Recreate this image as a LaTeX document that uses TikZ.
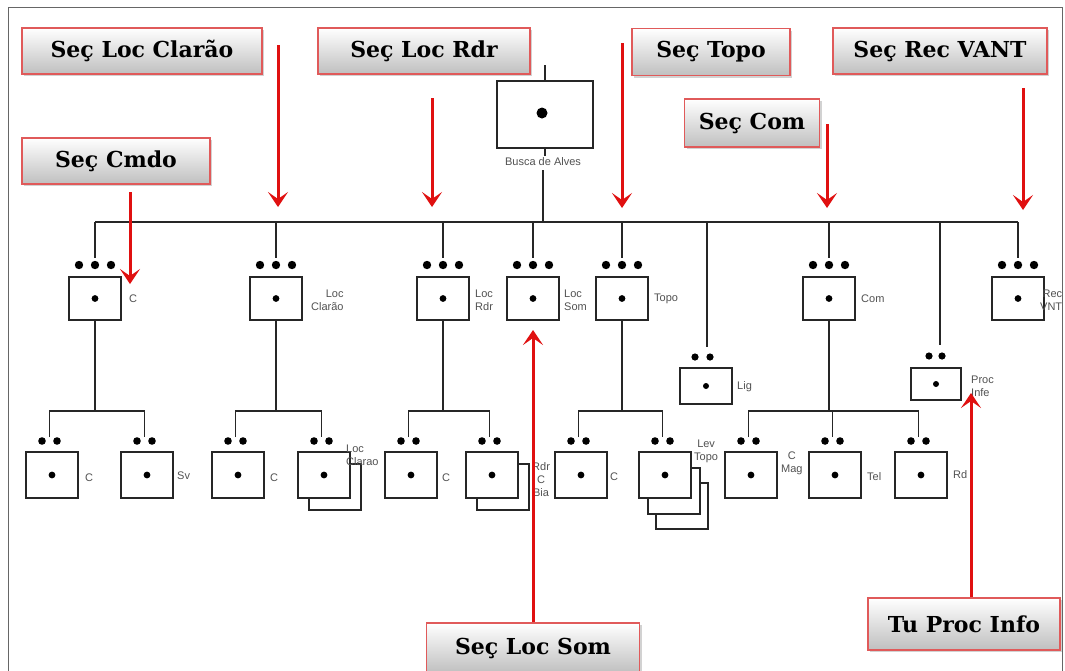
\documentclass[tikz,border=0pt]{standalone}
\usepackage{fontspec}
\setmainfont{Liberation Serif}
\newfontfamily\callfont{DejaVu Serif}
\newfontfamily\labfont{Liberation Sans}
\usetikzlibrary{arrows.meta,shadows,calc}
\definecolor{callred}{HTML}{E05A5A}
\definecolor{arrred}{HTML}{E01010}
\begin{document}
\begin{tikzpicture}[x=1pt,y=-1pt,
  callout/.style={draw=callred, line width=1.3pt, top color=white, bottom color=black!25,
    drop shadow={shadow xshift=2pt, shadow yshift=-2pt, opacity=0.35},
    font=\callfont\bfseries\fontsize{22}{24}\selectfont, inner sep=0pt},
  ubox/.style={draw=black!85, line width=1.3pt, fill=white, minimum width=52pt, inner sep=0pt},
  lab/.style={font=\labfont\fontsize{11}{13}\selectfont, text=black!68, align=left, inner sep=0pt, anchor=west},
  conn/.style={draw=black!85, line width=1.2pt},
  redarrow/.style={draw=arrred, line width=3pt, -{Stealth[length=15pt,width=20pt,inset=7pt]}},
  dotc/.style={fill=black}
]
\clip (0,0) rectangle (1065,670);
\fill[white] (0,0) rectangle (1065,670);
\draw[black!60, line width=1pt] (8,7) rectangle (1062,700);

% bus
\coordinate (bus) at (0,222);
\coordinate (bar) at (0,411);

% top node
\node[ubox, minimum width=96pt, minimum height=67pt] (busca) at (545,114.5) {};
\fill[dotc] (542,113) circle (5.5pt);
\draw[conn] (busca.north) -- ++(0,-15);
\draw[conn] (busca.south) -- ++(0,7);
\node[lab, anchor=center] (buscalab) at (543,162) {Busca de Alves};
\draw[conn] (buscalab.south |- 0,170) -- (buscalab.south |- bus);

% level 1
\foreach \n/\x in {C1/95, Cl/276, Rd/443, So/533, To/622, Co/829, Re/1018}{
  \node[ubox, minimum height=43pt] (\n) at (\x,298.5) {};
  \fill[dotc] (\n.center) circle (3.4pt);
  \foreach \dx in {-16,0,16} \fill[dotc] (\x+\dx,265) circle (4.2pt);
  \draw[conn] (\n |- bus) -- ($(\n.north)+(0,-18)$);
}
\draw[conn] (C1 |- bus) -- (Re |- bus);

% level 1.5
\node[ubox, minimum height=36pt] (Lg) at (706,386) {};
\fill[dotc] (Lg.center) circle (3pt);
\fill[dotc] (695,357) circle (3.6pt); \fill[dotc] (710,357) circle (3.6pt);
\draw[conn] (707,222) -- (707,347);
\node[ubox, minimum width=50pt, minimum height=32pt] (Pr) at (936,384) {};
\fill[dotc] (Pr.center) circle (3pt);
\fill[dotc] (929,356) circle (3.6pt); \fill[dotc] (942,356) circle (3.6pt);
\draw[conn] (940,222) -- (940,345);

% level 2 back boxes
\node[ubox, minimum height=46pt] at (335,487) {};
\node[ubox, minimum height=46pt] at (503,487) {};
\node[ubox, minimum height=46pt, minimum width=52pt] at (682,506) {};
\node[ubox, minimum height=46pt, minimum width=52pt] at (674,491) {};

\foreach \n/\x in {a/52, b/147, c/238, d/324, e/411, f/492, g/581, h/665, i/751, j/835, k/921}{
  \node[ubox, minimum height=46pt] (\n) at (\x,475) {};
  \fill[dotc] (\n.center) circle (3.4pt);
  \fill[dotc] (\x-10,441) circle (3.8pt);
  \fill[dotc] (\x+5,441) circle (3.8pt);
  \coordinate (\n-top) at (\x-2.5,437);
}
\draw[conn] (a-top) |- (b-top |- bar) -- (b-top);
\draw[conn] (C1.south) -- (C1.south |- bar);
\draw[conn] (c-top) |- (d-top |- bar) -- (d-top);
\draw[conn] (Cl.south) -- (Cl.south |- bar);
\draw[conn] (e-top) |- (f-top |- bar) -- (f-top);
\draw[conn] (Rd.south) -- (Rd.south |- bar);
\draw[conn] (g-top) |- (h-top |- bar) -- (h-top);
\draw[conn] (To.south) -- (To.south |- bar);
\draw[conn] (i-top) |- (k-top |- bar) -- (k-top);
\draw[conn] (j-top |- bar) -- (j-top);
\draw[conn] (Co.south) -- (Co.south |- bar);

% labels
\node[lab] (lC1) at (129,299) {C};
\node[lab, align=right] (lCl) at (311,300) {Loc\\Clarão};
\node[lab] (lRd) at (475,300) {Loc\\Rdr};
\node[lab] (lSo) at (564,300) {Loc\\Som};
\node[lab] (lTo) at (654,299) {Topo};
\node[lab] (lCo) at (861,299) {Com};
\node[lab, align=right] (lRe) at (1040,300) {Rec\\VNT};
\node[lab] (lLg) at (737,387) {Lig};
\node[lab] (lPr) at (971,386) {Proc\\Infe};
\node[lab] (la) at (85,478) {C};
\node[lab] (lb) at (177,476) {Sv};
\node[lab] (lc) at (270,478) {C};
\node[lab] (ld) at (346,455) {Loc\\Clarao};
\node[lab] (le) at (442,478) {C};
\node[lab, align=center] (lf) at (532,480) {Rdr\\C\\Bia};
\node[lab] (lg) at (610,477) {C};
\node[lab, align=center] (lh) at (694,451) {Lev\\Topo};
\node[lab, align=center] (li) at (781,463) {C\\Mag};
\node[lab] (lj) at (867,477) {Tel};
\node[lab] (lk) at (953,475) {Rd};

% callouts
\node[callout, minimum width=240pt, minimum height=46pt] (kCl) at (142,51) {Seç Loc Clarão};
\node[callout, minimum width=212pt, minimum height=46pt] (kRd) at (424,51) {Seç Loc Rdr};
\node[callout, minimum width=158pt, minimum height=47pt] (kTo) at (711,52) {Seç Topo};
\node[callout, minimum width=214pt, minimum height=46pt] (kRe) at (940,51) {Seç Rec VANT};
\node[callout, minimum width=135pt, minimum height=48pt] (kCo) at (752,123) {Seç Com};
\node[callout, minimum width=188pt, minimum height=46pt] (kC1) at (116,161) {Seç Cmdo};
\node[callout, minimum width=213pt, minimum height=50pt] (kSo) at (533,648) {Seç Loc Som};
\node[callout, minimum width=192pt, minimum height=52pt] (kPr) at (964,624) {Tu Proc Info};

% red arrows
\coordinate (s1) at (278,45);  \coordinate (e1) at (278,207);
\coordinate (s2) at (432,98);  \coordinate (e2) at (432,207);
\coordinate (s3) at (130,192); \coordinate (e3) at (130,284);
\coordinate (s4) at (622,43);  \coordinate (e4) at (622,208);
\coordinate (s5) at (827,124); \coordinate (e5) at (827,208);
\coordinate (s6) at (1023,88); \coordinate (e6) at (1023,210);
\draw[redarrow] (s1) -- (e1);
\draw[redarrow] (s2) -- (e2);
\draw[redarrow] (s3) -- (e3);
\draw[redarrow] (s4) -- (e4);
\draw[redarrow] (s5) -- (e5);
\draw[redarrow] (s6) -- (e6);
\draw[redarrow] (kSo.north) -- (kSo.north |- 0,330);
\coordinate (t7) at (971,393);
\draw[redarrow] (kPr.north -| t7) -- (t7);
\end{tikzpicture}
\end{document}
